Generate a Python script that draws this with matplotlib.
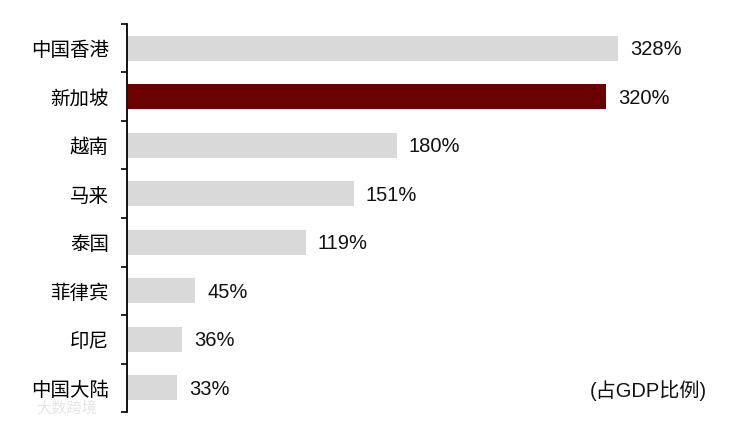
import matplotlib
matplotlib.use("Agg")
import matplotlib.pyplot as plt
from matplotlib.ticker import FixedLocator

categories = ["中国香港", "新加坡", "越南", "马来", "泰国", "菲律宾", "印尼", "中国大陆"]
values = [328, 320, 180, 151, 119, 45, 36, 33]
highlight = "新加坡"

plt.rcParams['font.family'] = ['Liberation Sans', 'Noto Sans CJK SC', 'DejaVu Sans']

fig = plt.figure(figsize=(7.31, 4.23), dpi=100)
W, H = 731, 423
left_px, right_px, top_px, bot_px = 127, 700, 24, 412
ax = fig.add_axes([left_px / W, 1 - bot_px / H, (right_px - left_px) / W, (bot_px - top_px) / H])

n = len(categories)
pos = list(range(n))
colors = ["#6b0000" if c == highlight else "#d9d9d9" for c in categories]
ax.barh(pos, values, height=0.52, color=colors, left=0.8)
ax.set_ylim(n - 0.5, -0.5)
ax.set_xlim(0, (right_px - left_px) / 1.494)

for p, v in zip(pos, values):
    ax.annotate(f"{v}%", xy=(v + 0.8, p), xytext=(8.5, -1), textcoords="offset points",
                va="center", ha="left", fontsize=14.5, color="#111111")

ax.set_yticks(pos)
ax.set_yticklabels(categories, fontsize=14, family=['Noto Sans CJK SC'])
ax.yaxis.set_minor_locator(FixedLocator([i - 0.5 for i in range(n + 1)]))
ax.tick_params(axis='y', which='major', length=0, pad=13)
ax.tick_params(axis='y', which='minor', length=4, width=1.2, color="#000000")
ax.set_xticks([])
for s in ["top", "right", "bottom"]:
    ax.spines[s].set_visible(False)
ax.spines["left"].set_linewidth(1.3)

fig.text(707 / W, 1 - 391 / H, "(占GDP比例)", ha="right", va="center", fontsize=14.5,
         family=['Liberation Sans', 'Noto Sans CJK SC'], color="#111111")
fig.text(36 / W, 1 - 408 / H, "大数跨境", ha="left", va="center", fontsize=11,
         family=['Noto Sans CJK SC'], color="#e6e6e6")

fig.savefig("out.png", dpi=100)
